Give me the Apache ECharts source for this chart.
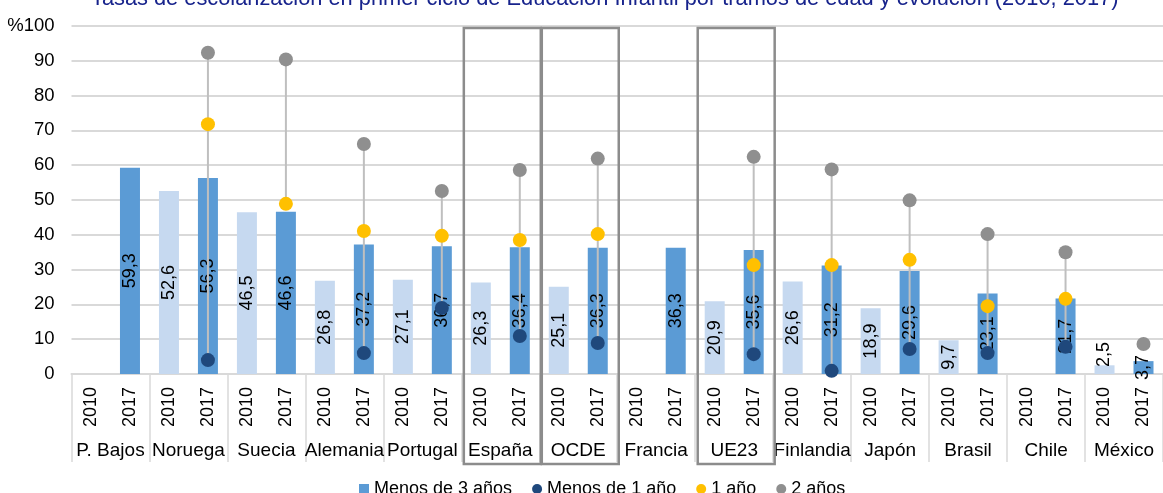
<!DOCTYPE html>
<html>
<head>
<meta charset="utf-8">
<script src="https://cdn.jsdelivr.net/npm/echarts@6/dist/echarts.min.js"></script>
<style>
  html, body { margin: 0; padding: 0; background: #fff; }
  #chart { width: 1163px; height: 493px; }
</style>
</head>
<body>
<div id="chart"></div>
<script>
// paises y años
var countries = ['P. Bajos', 'Noruega', 'Suecia', 'Alemania', 'Portugal', 'España', 'OCDE', 'Francia', 'UE23', 'Finlandia', 'Japón', 'Brasil', 'Chile', 'México'];
var years = ['2010', '2017'];
var boxed = ['España', 'OCDE', 'UE23'];
var yTicks = [0, 10, 20, 30, 40, 50, 60, 70, 80, 90, 100];

// Menos de 3 años (barras)
var bar2010 = [null, 52.6, 46.5, 26.8, 27.1, 26.3, 25.1, null, 20.9, 26.6, 18.9, 9.7, null, 2.5];
var bar2017 = [59.3, 56.3, 46.6, 37.2, 36.7, 36.4, 36.3, 36.3, 35.6, 31.2, 29.6, 23.1, 21.7, 3.7];
// puntos 2017
var menos1 = [null, 4.0, null, 6.0, 19.0, 10.9, 8.9, null, 5.7, 0.9, 7.2, 6.0, 7.8, null];
var uno = [null, 71.8, 48.9, 41.1, 39.7, 38.5, 40.2, null, 31.3, 31.3, 32.8, 19.5, 21.6, null];
var dos = [null, 92.3, 90.4, 66.1, 52.6, 58.6, 61.9, null, 62.4, 58.8, 49.9, 40.2, 35.0, 8.6];

var FONT = 'Liberation Sans';
var C2010 = '#C6D9F0', C2017 = '#5B9BD5';

var cats = [], barData = [];
for (var i = 0; i < countries.length; i++) {
    cats.push(countries[i] + '|' + years[0]);
    cats.push(countries[i] + '|' + years[1]);
    var d10 = { value: bar2010[i], itemStyle: { color: C2010 } };
    if (i == countries.length - 1) {
        d10.label = { position: 'insideBottom', distance: 7, align: 'left', verticalAlign: 'middle' };
    }
    barData.push(d10);
    barData.push({ value: bar2017[i], itemStyle: { color: C2017 } });
}
function pts(arr) {
    var out = [];
    for (var i = 0; i < arr.length; i++) {
        if (arr[i] != null) out.push([2 * i + 1, arr[i]]);
    }
    return out;
}
var hlData = [];
for (var i = 0; i < countries.length; i++) {
    var v = [menos1[i], uno[i], dos[i]].filter(function (x) { return x != null; });
    if (v.length > 1) hlData.push([2 * i + 1, Math.min.apply(null, v), Math.max.apply(null, v)]);
}
var boxData = [];
for (var i = 0; i < boxed.length; i++) {
    boxData.push([2 * countries.indexOf(boxed[i]), 100]);
}
function fmt(v) { return v.toFixed(1).replace('.', ','); }

var chart = echarts.init(document.getElementById('chart'));
var option = {
    animation: false,
    textStyle: { fontFamily: FONT },
    title: {
        text: 'Tasas de escolarización en primer ciclo de Educación Infantil por tramos de edad y evolución (2010, 2017)',
        left: 86, top: -17,
        textStyle: { color: '#17238C', fontSize: 21.8, fontWeight: 'normal', fontFamily: FONT }
    },
    legend: {
        left: 354, top: 475, itemWidth: 10, itemHeight: 10, itemGap: 20,
        textStyle: { fontSize: 18, color: '#000', fontFamily: FONT },
        data: [
            { name: 'Menos de 3 años', icon: 'rect' },
            { name: 'Menos de 1 año', icon: 'circle' },
            { name: '1 año', icon: 'circle' },
            { name: '2 años', icon: 'circle' }
        ]
    },
    grid: { left: 71.5, top: 26, width: 1096, height: 348 },
    xAxis: [{
        type: 'category', data: cats, position: 'bottom',
        axisLine: { lineStyle: { color: '#D9D9D9', width: 2 } },
        axisTick: { show: false },
        axisLabel: {
            rotate: 90, margin: 13, fontSize: 18, color: '#000', interval: 0,
            formatter: function (v) { return v.split('|')[1]; }
        }
    }, {
        type: 'category', data: countries, position: 'bottom',
        axisLine: { show: false },
        axisTick: { show: true, length: 88, interval: 0, lineStyle: { color: '#D9D9D9', width: 1.5 } },
        axisLabel: { margin: 67, fontSize: 19, color: '#000', interval: 0 }
    }],
    yAxis: {
        type: 'value', min: 0, max: 100, interval: 10,
        axisLine: { show: false }, axisTick: { show: false },
        splitLine: { lineStyle: { color: '#D9D9D9', width: 2 } },
        axisLabel: {
            fontSize: 18.5, color: '#000', margin: 17,
            formatter: function (v) { return v == 100 ? '%100' : v; }
        }
    },
    series: [{
        name: 'Menos de 3 años', type: 'bar', xAxisIndex: 0, barWidth: 20, z: 2,
        itemStyle: { color: C2017 },
        label: {
            show: true, position: 'inside', rotate: 90, fontSize: 18, color: '#000',
            formatter: function (p) { return fmt(p.value); }
        },
        data: barData
    }, {
        name: 'hl', type: 'custom', xAxisIndex: 0, z: 3,
        encode: { x: 0, y: [1, 2] },
        renderItem: function (params, api) {
            var p1 = api.coord([api.value(0), api.value(1)]);
            var p2 = api.coord([api.value(0), api.value(2)]);
            return { type: 'line', shape: { x1: p1[0], y1: p1[1], x2: p2[0], y2: p2[1] }, style: { stroke: '#BFBFBF', lineWidth: 2 } };
        },
        data: hlData
    }, {
        name: 'Menos de 1 año', type: 'scatter', xAxisIndex: 0, z: 4, symbolSize: 14,
        itemStyle: { color: '#1F487C', opacity: 1 }, data: pts(menos1)
    }, {
        name: '1 año', type: 'scatter', xAxisIndex: 0, z: 4, symbolSize: 14,
        itemStyle: { color: '#FFC000', opacity: 1 }, data: pts(uno)
    }, {
        name: '2 años', type: 'scatter', xAxisIndex: 0, z: 4, symbolSize: 14,
        itemStyle: { color: '#8F8F8F', opacity: 1 }, data: pts(dos)
    }, {
        name: 'cajas', type: 'custom', xAxisIndex: 0, z: 5, clip: false, silent: true,
        encode: { x: 0, y: 1 },
        renderItem: function (params, api) {
            var slot = api.size([1, 0])[0];
            var p = api.coord([api.value(0), api.value(1)]);
            var base = api.coord([api.value(0), 0]);
            var x0 = p[0] - slot / 2 + 2.5;
            var y0 = p[1] + 2;
            return {
                type: 'rect',
                shape: { x: x0, y: y0, width: 2 * slot - 1, height: base[1] + 90 - y0 },
                style: { fill: 'none', stroke: '#8C8C8C', lineWidth: 2.5 }
            };
        },
        data: boxData
    }]
};
chart.setOption(option);
</script>
</body>
</html>
